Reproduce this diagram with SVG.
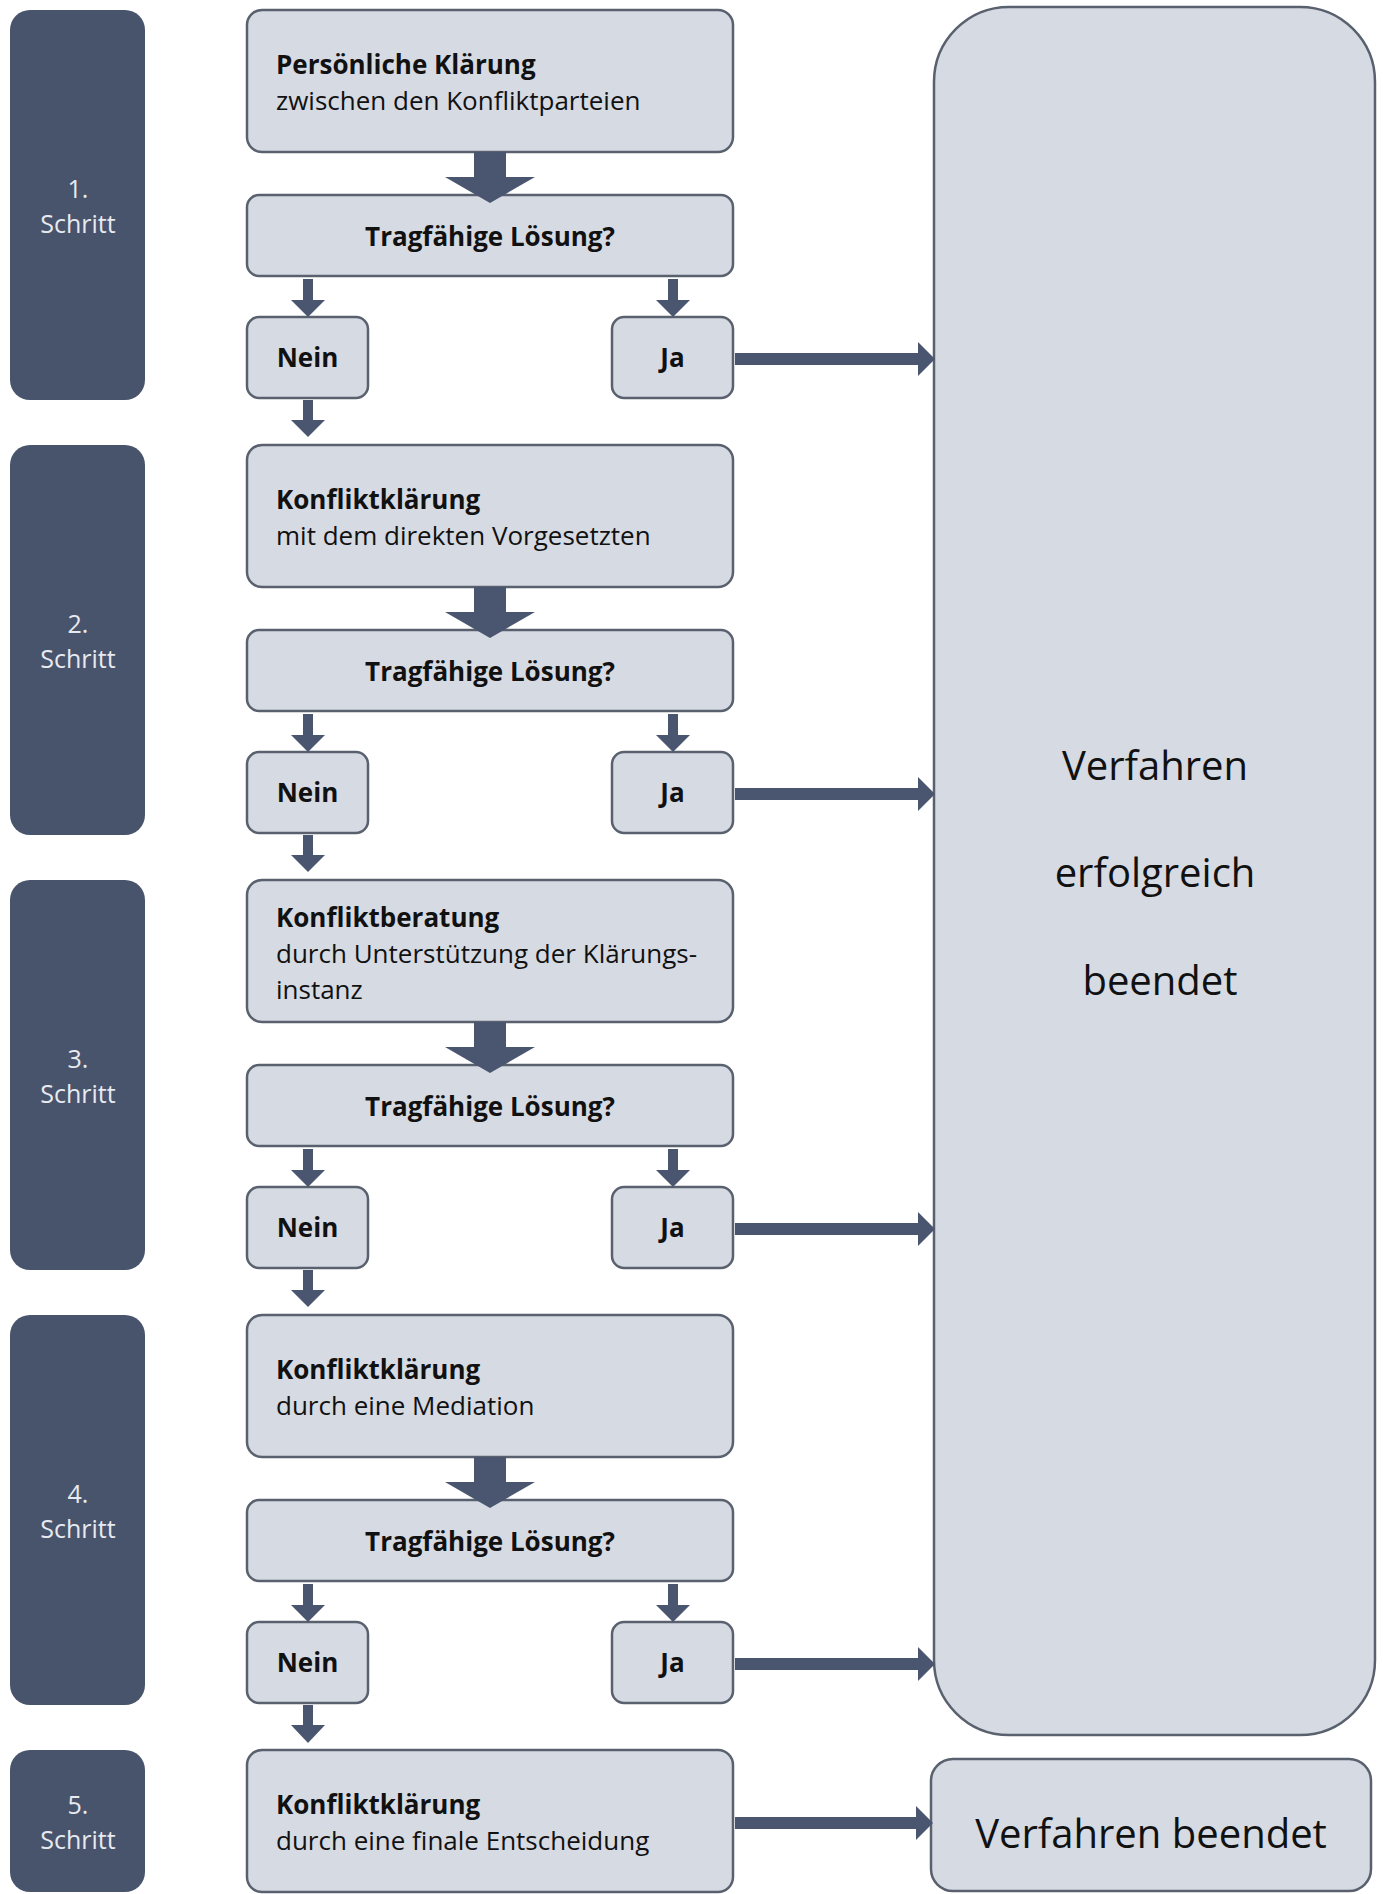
<svg xmlns="http://www.w3.org/2000/svg" width="1383" height="1894" viewBox="0 0 1383 1894">
<style>
.step{fill:#47546c;}
.steptxt{font-family:"Open Sans","Noto Sans",sans-serif;font-size:25px;fill:#e8eaf0;text-anchor:middle;}
.box{fill:#d6dae3;stroke:#5a616e;stroke-width:2.5;}
.t{font-family:"Open Sans","Noto Sans",sans-serif;font-size:26px;fill:#111;}
.b{font-weight:bold;}
.c{text-anchor:middle;}
.big{font-family:"Open Sans","Noto Sans",sans-serif;font-size:40px;fill:#111;text-anchor:middle;}
.arr{fill:#4a5670;}
</style>
<rect width="1383" height="1894" fill="#ffffff"/>

<!-- Step labels -->
<g id="step1"><rect class="step" x="10" y="10" width="135" height="390" rx="20"/><text class="steptxt" x="78" y="198">1.</text><text class="steptxt" x="78" y="233">Schritt</text></g>
<g id="step2"><rect class="step" x="10" y="445" width="135" height="390" rx="20"/><text class="steptxt" x="78" y="633">2.</text><text class="steptxt" x="78" y="668">Schritt</text></g>
<g id="step3"><rect class="step" x="10" y="880" width="135" height="390" rx="20"/><text class="steptxt" x="78" y="1068">3.</text><text class="steptxt" x="78" y="1103">Schritt</text></g>
<g id="step4"><rect class="step" x="10" y="1315" width="135" height="390" rx="20"/><text class="steptxt" x="78" y="1503">4.</text><text class="steptxt" x="78" y="1538">Schritt</text></g>
<g id="step5"><rect class="step" x="10" y="1750" width="135" height="142" rx="20"/><text class="steptxt" x="78" y="1814">5.</text><text class="steptxt" x="78" y="1849">Schritt</text></g>

<!-- Main boxes -->
<g id="main1"><rect class="box" x="247" y="10" width="486" height="142" rx="15"/><text class="t b" x="276" y="74">Persönliche Klärung</text><text class="t" x="276" y="110">zwischen den Konfliktparteien</text></g>
<g id="main2"><rect class="box" x="247" y="445" width="486" height="142" rx="15"/><text class="t b" x="276" y="509">Konfliktklärung</text><text class="t" x="276" y="545">mit dem direkten Vorgesetzten</text></g>
<g id="main3"><rect class="box" x="247" y="880" width="486" height="142" rx="15"/><text class="t b" x="276" y="927">Konfliktberatung</text><text class="t" x="276" y="963">durch Unterstützung der Klärungs-</text><text class="t" x="276" y="999">instanz</text></g>
<g id="main4"><rect class="box" x="247" y="1315" width="486" height="142" rx="15"/><text class="t b" x="276" y="1379">Konfliktklärung</text><text class="t" x="276" y="1415">durch eine Mediation</text></g>
<g id="main5"><rect class="box" x="247" y="1750" width="486" height="142" rx="15"/><text class="t b" x="276" y="1814">Konfliktklärung</text><text class="t" x="276" y="1850">durch eine finale Entscheidung</text></g>

<!-- Decisions -->
<g id="dec1"><rect class="box" x="247" y="195" width="486" height="81" rx="12"/><text class="t b c" x="490" y="246">Tragfähige Lösung?</text></g>
<g id="dec2"><rect class="box" x="247" y="630" width="486" height="81" rx="12"/><text class="t b c" x="490" y="681">Tragfähige Lösung?</text></g>
<g id="dec3"><rect class="box" x="247" y="1065" width="486" height="81" rx="12"/><text class="t b c" x="490" y="1116">Tragfähige Lösung?</text></g>
<g id="dec4"><rect class="box" x="247" y="1500" width="486" height="81" rx="12"/><text class="t b c" x="490" y="1551">Tragfähige Lösung?</text></g>

<!-- Nein / Ja -->
<g id="nein1"><rect class="box" x="247" y="317" width="121" height="81" rx="12"/><text class="t b c" x="307.5" y="367">Nein</text></g>
<g id="ja1"><rect class="box" x="612" y="317" width="121" height="81" rx="12"/><text class="t b c" x="672.5" y="367">Ja</text></g>
<g id="nein2"><rect class="box" x="247" y="752" width="121" height="81" rx="12"/><text class="t b c" x="307.5" y="802">Nein</text></g>
<g id="ja2"><rect class="box" x="612" y="752" width="121" height="81" rx="12"/><text class="t b c" x="672.5" y="802">Ja</text></g>
<g id="nein3"><rect class="box" x="247" y="1187" width="121" height="81" rx="12"/><text class="t b c" x="307.5" y="1237">Nein</text></g>
<g id="ja3"><rect class="box" x="612" y="1187" width="121" height="81" rx="12"/><text class="t b c" x="672.5" y="1237">Ja</text></g>
<g id="nein4"><rect class="box" x="247" y="1622" width="121" height="81" rx="12"/><text class="t b c" x="307.5" y="1672">Nein</text></g>
<g id="ja4"><rect class="box" x="612" y="1622" width="121" height="81" rx="12"/><text class="t b c" x="672.5" y="1672">Ja</text></g>

<!-- Result boxes -->
<g id="erfolgreich"><rect class="box" x="934" y="7" width="441" height="1728" rx="75"/><text class="big" x="1155" y="780">Verfahren</text><text class="big" x="1155" y="887">erfolgreich</text><text class="big" x="1160" y="995">beendet</text></g>
<g id="beendet"><rect class="box" x="931" y="1759" width="440" height="132" rx="22"/><text class="big" x="1151" y="1848">Verfahren beendet</text></g>

<!-- Connectors -->
<g id="connectors" class="arr">
<path d="M474,152H506V177H535L490,203L445,177H474Z"/>
<path d="M303,279H313V300H325L308,317L291,300H303Z"/>
<path d="M668,279H678V300H690L673,317L656,300H668Z"/>
<path d="M303,400H313V420H325L308,437L291,420H303Z"/>
<path d="M735,353H918V342L935,359L918,376V365H735Z"/>

<path d="M474,587H506V612H535L490,638L445,612H474Z"/>
<path d="M303,714H313V735H325L308,752L291,735H303Z"/>
<path d="M668,714H678V735H690L673,752L656,735H668Z"/>
<path d="M303,835H313V855H325L308,872L291,855H303Z"/>
<path d="M735,788H918V777L935,794L918,811V800H735Z"/>

<path d="M474,1022H506V1047H535L490,1073L445,1047H474Z"/>
<path d="M303,1149H313V1170H325L308,1187L291,1170H303Z"/>
<path d="M668,1149H678V1170H690L673,1187L656,1170H668Z"/>
<path d="M303,1270H313V1290H325L308,1307L291,1290H303Z"/>
<path d="M735,1223H918V1212L935,1229L918,1246V1235H735Z"/>

<path d="M474,1457H506V1482H535L490,1508L445,1482H474Z"/>
<path d="M303,1584H313V1605H325L308,1622L291,1605H303Z"/>
<path d="M668,1584H678V1605H690L673,1622L656,1605H668Z"/>
<path d="M303,1705H313V1725H325L308,1743L291,1725H303Z"/>
<path d="M735,1658H918V1647L935,1664L918,1681V1670H735Z"/>

<path d="M735,1817H916V1806L933,1823L916,1840V1829H735Z"/>
</g>
</svg>
